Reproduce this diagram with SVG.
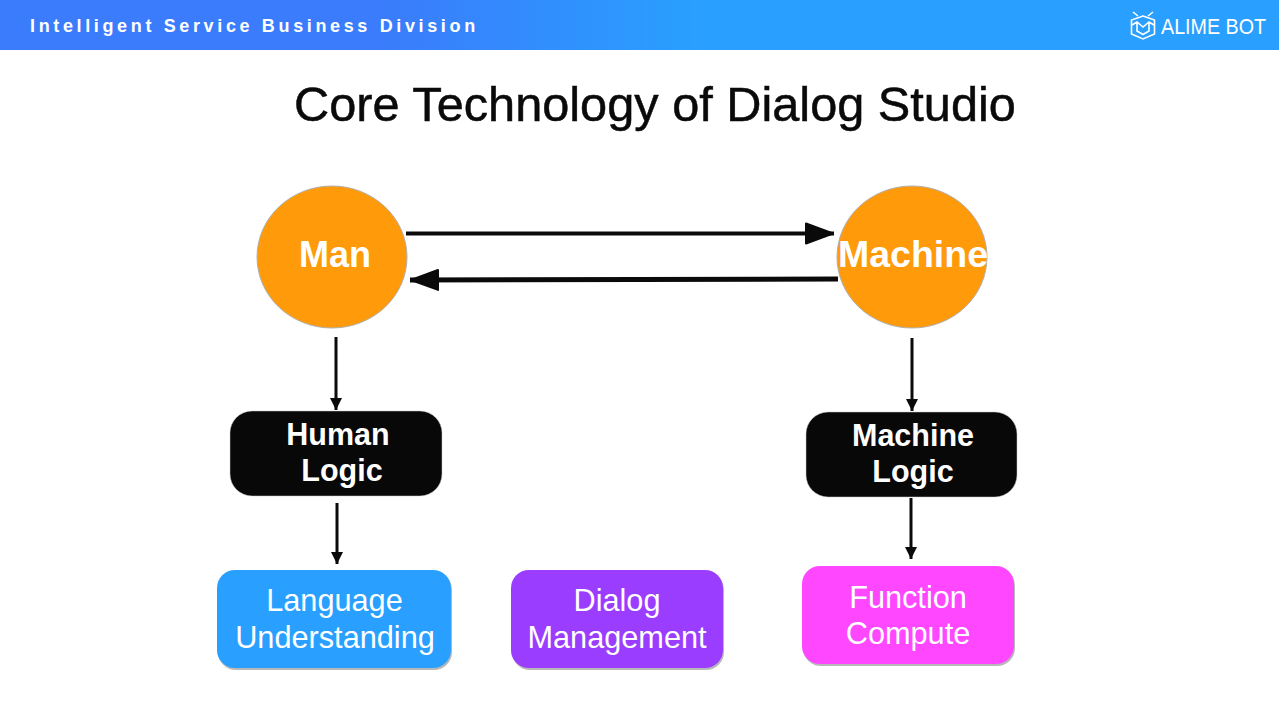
<svg xmlns="http://www.w3.org/2000/svg" width="1279" height="720" viewBox="0 0 1279 720">
<defs>
<linearGradient id="hdr" x1="0" y1="0" x2="1" y2="0"><stop offset="0" stop-color="#3a7cfb"/><stop offset="0.3" stop-color="#3a7cfb"/><stop offset="0.55" stop-color="#29a0ff"/><stop offset="1" stop-color="#29a0ff"/></linearGradient>
<marker id="big" markerUnits="userSpaceOnUse" markerWidth="32" markerHeight="26" refX="30" refY="13" orient="auto"><path d="M2 3 L29 13 L2 23 Z" fill="#0a0a0a" stroke="#0a0a0a" stroke-width="2" stroke-linejoin="round"/></marker>
<marker id="small" markerUnits="userSpaceOnUse" markerWidth="14" markerHeight="14" refX="13" refY="7" orient="auto"><path d="M1 1 L13 7 L1 13 Z" fill="#0a0a0a"/></marker>
</defs>
<style>
text{font-family:"Liberation Sans",Arial,sans-serif;text-anchor:middle}
.w{fill:#fff}
.b{font-weight:bold;font-size:30.500px}
.r{font-size:30.700px}
.big{font-weight:bold;font-size:36px}
.circle{fill:#ff9a0a;stroke:#b0b0b0;stroke-width:1}
.blk{fill:#080808;stroke:#c8c8c8;stroke-width:.5}
.c{fill:none;stroke:#0a0a0a}
.shadow{fill:#b8b8b8}
</style>
<rect id="header" x="0" y="0" width="1279" height="50" fill="url(#hdr)"/>
<text x="30" y="32" class="w" style="text-anchor:start;font-weight:bold;font-size:18px;letter-spacing:3.640px">Intelligent Service Business Division</text>
<g id="logo" fill="none" stroke="#fff" stroke-width="1.600">
<path d="M1143 16 L1154.500 20 V34 L1143 39 L1131.500 34 V20 Z"/>
<path d="M1132 25 L1137 22 L1143 27 L1149 22 L1154 25 M1137 22 V31 L1143 34.500 L1149 31 V22"/>
<path d="M1133 12 L1138 16 M1153 12 L1148 16"/>
<text x="1161" y="34" class="w" stroke="none" textLength="105" lengthAdjust="spacingAndGlyphs" style="text-anchor:start;font-size:22px">ALIME BOT</text>
</g>
<text id="title" x="655" y="121" fill="#0a0a0a" stroke="#0a0a0a" stroke-width=".5" style="font-size:48.700px">Core Technology of Dialog Studio</text>
<g id="connectors">
<line class="c" x1="406" y1="233.500" x2="834" y2="233.500" stroke-width="4" marker-end="url(#big)"/>
<line class="c" x1="838" y1="279" x2="410" y2="280" stroke-width="5" marker-end="url(#big)"/>
<line class="c" x1="336" y1="337" x2="336" y2="410" stroke-width="3" marker-end="url(#small)"/>
<line class="c" x1="912" y1="338" x2="912" y2="411" stroke-width="3" marker-end="url(#small)"/>
<line class="c" x1="337" y1="503" x2="337" y2="564" stroke-width="3" marker-end="url(#small)"/>
<line class="c" x1="911" y1="498" x2="911" y2="559" stroke-width="3" marker-end="url(#small)"/>
</g>
<g id="man"><ellipse class="circle" cx="332" cy="257" rx="75" ry="71"/><text x="335" y="267" class="w big">Man</text></g>
<g id="machine"><ellipse class="circle" cx="912" cy="257" rx="75" ry="71"/><text x="913" y="267" class="w big" textLength="150" lengthAdjust="spacingAndGlyphs">Machine</text></g>
<g id="human-logic"><rect class="blk" x="230" y="411" width="212" height="85" rx="22"/><text x="338" y="445" class="w b">Human</text><text x="342" y="481" class="w b">Logic</text></g>
<g id="machine-logic"><rect class="blk" x="806" y="412" width="211" height="85" rx="22"/><text x="913" y="446" class="w b">Machine</text><text x="913" y="482" class="w b">Logic</text></g>
<g id="language-understanding"><rect class="shadow" x="218" y="572" width="234" height="98" rx="18"/><rect x="217" y="570" width="234" height="98" rx="18" fill="#29a0ff"/><text x="334.500" y="611" class="w r">Language</text><text x="335" y="648" class="w r">Understanding</text></g>
<g id="dialog-management"><rect class="shadow" x="512" y="572" width="212" height="98" rx="18"/><rect x="511" y="570" width="212" height="98" rx="18" fill="#9a3dff"/><text x="617" y="611" class="w r">Dialog</text><text x="617" y="648" class="w r">Management</text></g>
<g id="function-compute"><rect class="shadow" x="803" y="568" width="212" height="98" rx="18"/><rect x="802" y="566" width="212" height="98" rx="18" fill="#ff47ff"/><text x="908" y="608" class="w r">Function</text><text x="908" y="644" class="w r">Compute</text></g>
</svg>
